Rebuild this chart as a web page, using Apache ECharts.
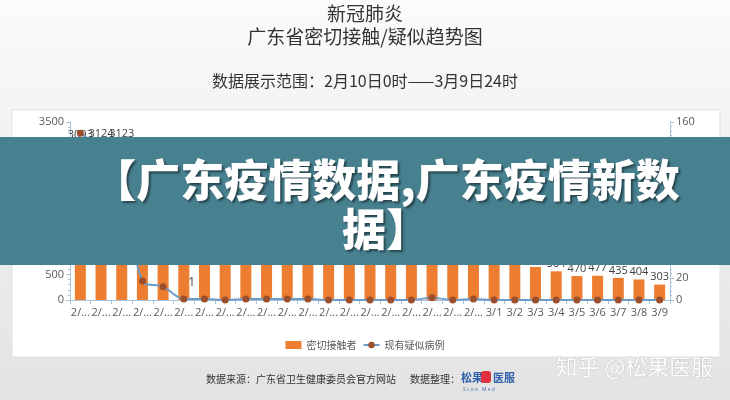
<!DOCTYPE html>
<html>
<head>
<meta charset="utf-8">
<script src="https://cdn.jsdelivr.net/npm/echarts@6/dist/echarts.min.js"></script>
<style>
html,body{margin:0;padding:0;background:#fff;}
#c{width:730px;height:400px;}
</style>
</head>
<body>
<div id="c"></div>
<script>
var categories = ['2/10','2/11','2/12','2/13','2/14','2/15','2/16','2/17','2/18','2/19','2/20','2/21','2/22','2/23','2/24','2/25','2/26','2/27','2/28','2/29','3/1','3/2','3/3','3/4','3/5','3/6','3/7','3/8','3/9'];
var contacts = [3093,3124,3123,2885,2621,2384,2155,1965,1762,1580,1421,1288,1175,1083,1010,948,897,862,815,779,742,705,650,564,470,477,435,404,303];
var suspected = [150,135,115,17,12,1,1,0,1,1,1,1,0,0,0,0,0,2,0,1,0,0,0,0,0,0,0,0,0];
var leftTicks = [0,3500,500];
var rightTicks = [0,160,20];

var CJK = '"Noto Sans CJK SC", sans-serif';
var NUM = '"Open Sans", "Noto Sans CJK SC", sans-serif';

var chart = echarts.init(document.getElementById('c'), null, {renderer:'canvas'});

var lineData = suspected.map(function(v, i){
  if (i === 5) return {value: v, label: {show: true, position: 'top', offset: [8, -2], color: '#404040', fontSize: 12, fontFamily: NUM}};
  return v;
});

chart.setOption({
  animation: false,
  graphic: [
    {type:'rect', z:-30, silent:true, shape:{x:0,y:0,width:730,height:400},
     style:{fill:new echarts.graphic.LinearGradient(0,0,0,1,[{offset:0,color:'#fbfbfb'},{offset:0.3,color:'#f3f3f3'},{offset:1,color:'#e3e3e3'}])}},
    {type:'rect', z:-20, silent:true, shape:{x:12,y:110,width:708,height:247},
     style:{fill:'#ffffff', stroke:'#e2e2e2', lineWidth:1}},
    {type:'text', z:5, left:'center', top:4, style:{text:'新冠肺炎', font:'normal 19px ' + CJK, fill:'#333333'}},
    {type:'text', z:5, left:'center', top:27, style:{text:'广东省密切接触/疑似趋势图', font:'normal 19px ' + CJK, fill:'#333333'}},
    {type:'text', z:5, left:'center', top:73, style:{text:'数据展示范围：2月10日0时——3月9日24时', font:'normal 16px ' + CJK, fill:'#333333'}},
    {type:'text', z:5, left:206, top:374, style:{text:'数据来源：广东省卫生健康委员会官方网站', font:'normal 10px ' + CJK, fill:'#333333'}},
    {type:'text', z:5, left:410, top:374, style:{text:'数据整理：', font:'normal 10px ' + CJK, fill:'#333333'}},
    {type:'text', z:5, left:461, top:372, style:{text:'松果', font:'bold 11px ' + CJK, fill:'#2f5fa8'}},
    {type:'rect', z:5, shape:{x:481,y:371,width:10,height:12,r:3}, style:{fill:'#e0303d'}},
    {type:'text', z:5, left:493, top:372, style:{text:'医服', font:'bold 11px ' + CJK, fill:'#2f5fa8'}},
    {type:'text', z:5, left:463, top:387, style:{text:'S c o o   M e d', font:'normal 5px ' + NUM, fill:'#4a6fb0'}},
    {type:'text', z:6, left:555, top:355, style:{text:'知乎 @松果医服', font:'normal 22px ' + CJK, fill:'rgba(255,255,255,0.95)', stroke:'rgba(150,150,150,0.35)', lineWidth:1}},
    {type:'rect', z:100, silent:true, shape:{x:0,y:137,width:730,height:128}, style:{fill:'#47808f'}},
    {type:'text', z:101, silent:true, x:386, y:156,
     style:{text:'【广东疫情数据,广东疫情新数\n据】', font:'900 44px ' + CJK, fill:'#ffffff', align:'center', textAlign:'center', lineHeight:49,
            textShadowColor:'rgba(0,0,0,0.45)', textShadowBlur:2, textShadowOffsetX:2, textShadowOffsetY:2}}
  ],
  legend: {
    top: 335, left: 'center', itemGap: 6, itemWidth: 16, itemHeight: 8,
    textStyle: {fontFamily: CJK, fontSize: 10, color: '#595959'},
    data: [{name:'密切接触者', icon:'rect'}, {name:'现有疑似病例'}]
  },
  grid: {left: 70, right: 60, top: 122, bottom: 100, containLabel: false},
  xAxis: {
    type: 'category', data: categories,
    axisLine: {lineStyle: {color: '#a9c3dc'}},
    axisTick: {show: true, alignWithLabel: false, lineStyle: {color: '#a9c3dc'}, length: 4},
    axisLabel: {color: '#595959', fontSize: 11, fontFamily: NUM, interval: 0, margin: 7, width: 23, overflow: 'truncate', ellipsis: '...'}
  },
  yAxis: [
    {type: 'value', min: leftTicks[0], max: leftTicks[1], interval: leftTicks[2], splitLine: {show: false},
     axisLine: {show: true, lineStyle: {color: '#a9c3dc'}}, axisTick: {show: true, length: 4, lineStyle: {color: '#a9c3dc'}},
     minorTick: {show: true, splitNumber: 5, length: 2, lineStyle: {color: '#a9c3dc'}},
     axisLabel: {color: '#595959', fontSize: 11, fontFamily: NUM, margin: 6, formatter: function(v){ return String(v); }}},
    {type: 'value', min: rightTicks[0], max: rightTicks[1], interval: rightTicks[2], splitLine: {show: false}, alignTicks: false,
     axisLine: {show: true, lineStyle: {color: '#a9c3dc'}}, axisTick: {show: true, length: 4, lineStyle: {color: '#a9c3dc'}},
     minorTick: {show: true, splitNumber: 5, length: 2, lineStyle: {color: '#a9c3dc'}},
     axisLabel: {color: '#595959', fontSize: 11, fontFamily: NUM, margin: 6, formatter: function(v){ return String(v); }}}
  ],
  series: [
    {name: '密切接触者', type: 'bar', data: contacts, barWidth: 11, yAxisIndex: 0,
     itemStyle: {color: '#ed7d31'},
     label: {show: true, position: 'top', distance: 2, color: '#404040', fontSize: 11, fontFamily: NUM}},
    {name: '现有疑似病例', type: 'line', data: lineData, yAxisIndex: 1, smooth: 0.35,
     symbol: 'circle', symbolSize: 7,
     lineStyle: {color: '#6c9bc6', width: 2},
     itemStyle: {color: '#9c4f2a'}}
  ]
});
</script>
</body>
</html>
